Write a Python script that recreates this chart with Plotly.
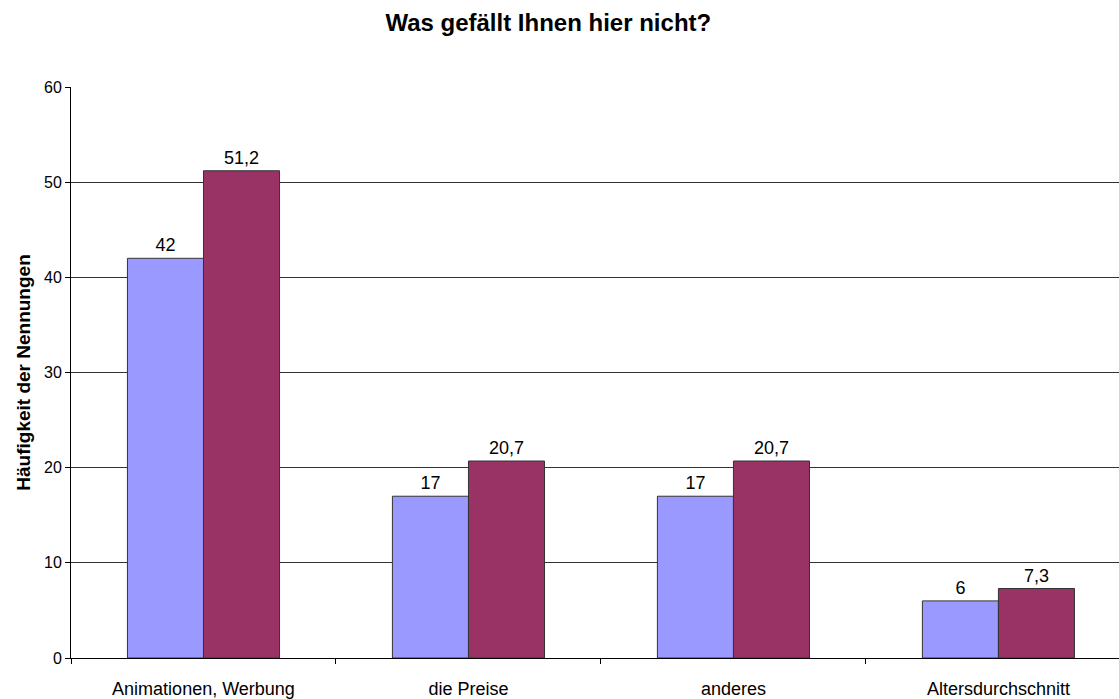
import plotly.graph_objects as go

categories = ['Animationen, Werbung', 'die Preise', 'anderes', 'Altersdurchschnitt']
series_a = [42, 17, 17, 6]
series_b = [51.2, 20.7, 20.7, 7.3]
y_ticks = [0, 10, 20, 30, 40, 50, 60]

# german decimal comma for the bar labels
labels_a = [f'{v:g}'.replace('.', ',') for v in series_a]
labels_b = [f'{v:g}'.replace('.', ',') for v in series_b]

fig = go.Figure()
fig.add_trace(go.Bar(
    x=categories, y=series_a, name='A',
    marker=dict(color='#9999FF', line=dict(color='#333333', width=1)),
    text=labels_a, textposition='outside', cliponaxis=False, constraintext='none',
    textfont=dict(size=18, color='black'),
))
fig.add_trace(go.Bar(
    x=categories, y=series_b, name='B',
    marker=dict(color='#993366', line=dict(color='#333333', width=1)),
    text=labels_b, textposition='outside', cliponaxis=False, constraintext='none',
    textfont=dict(size=18, color='black'),
))

fig.update_layout(
    width=1119, height=699,
    margin=dict(l=71, r=0, t=87, b=39),
    paper_bgcolor='white', plot_bgcolor='white',
    font=dict(family='Liberation Sans, Arial, sans-serif', size=16, color='black'),
    separators=',.',
    showlegend=False,
    barmode='group', bargap=0.426, bargroupgap=0,
    title=dict(text='<b>Was gefällt Ihnen hier nicht?</b>', x=0.49, xanchor='center',
               y=0.967, yanchor='middle', font=dict(size=24)),
)
fig.update_xaxes(
    range=[-0.5, 3.455], tickson='boundaries', ticks='outside', ticklen=5,
    tickcolor='black', showline=True, linecolor='black', linewidth=1,
    showgrid=False, ticklabelstandoff=14, tickfont=dict(size=18),
)
fig.update_yaxes(
    range=[0, 60], tickvals=y_ticks, ticks='outside', ticklen=5, tickcolor='black',
    showline=True, linecolor='black', linewidth=1,
    showgrid=True, gridcolor='#333333', gridwidth=1, zeroline=False,
    title=dict(text='<b>Häufigkeit der Nennungen</b>', font=dict(size=19), standoff=8),
    tickfont=dict(size=16),
)

fig.write_html('out.html', config={'displayModeBar': False},
               post_script="document.body.style.margin='0';document.body.style.overflow='hidden';")
